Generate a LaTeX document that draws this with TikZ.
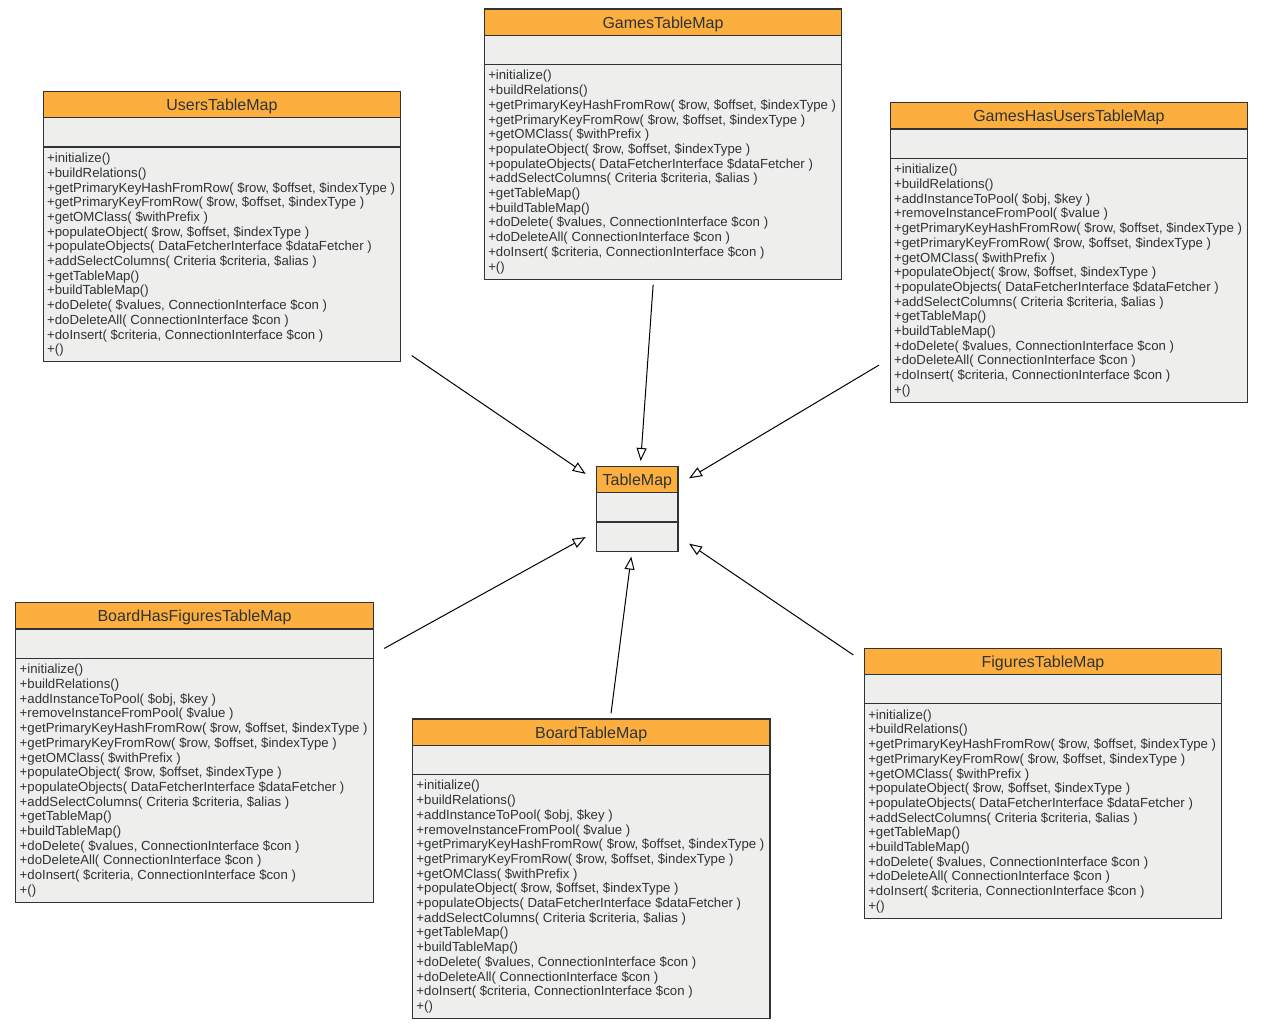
\documentclass[tikz,border=0pt]{standalone}
\usepackage{fontspec}
\setmainfont{Liberation Sans}
\usepackage{xcolor}
\usepackage{tikz}
\usetikzlibrary{shapes,arrows.meta,positioning}
\definecolor{umlorange}{HTML}{FCAF3E}
\definecolor{umlgray}{HTML}{EEEEEC}
\definecolor{umlink}{HTML}{2E3436}
\newcommand{\classname}[1]{\rule[-6.5pt]{0pt}{25pt}{\fontsize{16}{19}\selectfont #1}}
\newcommand{\emptypart}{\rule{0pt}{28pt}}
\newcommand{\opsshort}{\rule{0pt}{15pt}+initialize()\\
+buildRelations()\\
+getPrimaryKeyHashFromRow( \$row, \$offset, \$indexType )\\
+getPrimaryKeyFromRow( \$row, \$offset, \$indexType )\\
+getOMClass( \$withPrefix )\\
+populateObject( \$row, \$offset, \$indexType )\\
+populateObjects( DataFetcherInterface \$dataFetcher )\\
+addSelectColumns( Criteria \$criteria, \$alias )\\
+getTableMap()\\
+buildTableMap()\\
+doDelete( \$values, ConnectionInterface \$con )\\
+doDeleteAll( ConnectionInterface \$con )\\
+doInsert( \$criteria, ConnectionInterface \$con )\\
+()\rule[-7.5pt]{0pt}{7.5pt}}
\newcommand{\opslong}{\rule{0pt}{15pt}+initialize()\\
+buildRelations()\\
+addInstanceToPool( \$obj, \$key )\\
+removeInstanceFromPool( \$value )\\
+getPrimaryKeyHashFromRow( \$row, \$offset, \$indexType )\\
+getPrimaryKeyFromRow( \$row, \$offset, \$indexType )\\
+getOMClass( \$withPrefix )\\
+populateObject( \$row, \$offset, \$indexType )\\
+populateObjects( DataFetcherInterface \$dataFetcher )\\
+addSelectColumns( Criteria \$criteria, \$alias )\\
+getTableMap()\\
+buildTableMap()\\
+doDelete( \$values, ConnectionInterface \$con )\\
+doDeleteAll( ConnectionInterface \$con )\\
+doInsert( \$criteria, ConnectionInterface \$con )\\
+()\rule[-7.5pt]{0pt}{7.5pt}}

\begin{document}
\begin{tikzpicture}[x=1pt,y=-1pt,every node/.style={outer xsep=11pt,outer ysep=5.5pt}]
\tikzstyle{tablebox}=[draw=umlink,line width=1.2pt,text=umlink,
rectangle split,rectangle split parts=3,
rectangle split part fill={umlorange,umlgray},
rectangle split part align={center,left,left},
align=left,inner xsep=4pt,inner ysep=0pt,
font=\fontsize{13.2}{14.7}\selectfont,minimum width=357.5pt]
\tikzstyle{extends}=[-{Triangle[open,length=13pt,width=10pt]},line width=1pt]
\useasboundingbox (0,0) rectangle (1264,1028);
% classes
\node (tablemap) [tablebox,minimum width=81.3pt] at (637.35,508.8) {\classname{TableMap}\nodepart{two}\emptypart\nodepart{three}\emptypart};
\node (users) [tablebox] at (221.9,226.7) {\classname{UsersTableMap}\nodepart{two}\emptypart\nodepart{three}\opsshort};
\node (games) [tablebox] at (663,144) {\classname{GamesTableMap}\nodepart{two}\emptypart\nodepart{three}\opsshort};
\node (gameshasusers) [tablebox] at (1068.85,252.65) {\classname{GamesHasUsersTableMap}\nodepart{two}\emptypart\nodepart{three}\opslong};
\node (boardhasfigures) [tablebox] at (194.5,752.65) {\classname{BoardHasFiguresTableMap}\nodepart{two}\emptypart\nodepart{three}\opslong};
\node (board) [tablebox] at (591.2,868.7) {\classname{BoardTableMap}\nodepart{two}\emptypart\nodepart{three}\opslong};
\node (figures) [tablebox] at (1043,783.3) {\classname{FiguresTableMap}\nodepart{two}\emptypart\nodepart{three}\opsshort};
% inheritance
\draw [extends] (users) -- (tablemap);
\draw [extends] (games) -- (tablemap);
\draw [extends] (gameshasusers) -- (tablemap);
\draw [extends] (boardhasfigures) -- (tablemap);
\draw [extends] (board) -- (tablemap);
\draw [extends] (figures) -- (tablemap);
\end{tikzpicture}
\end{document}
